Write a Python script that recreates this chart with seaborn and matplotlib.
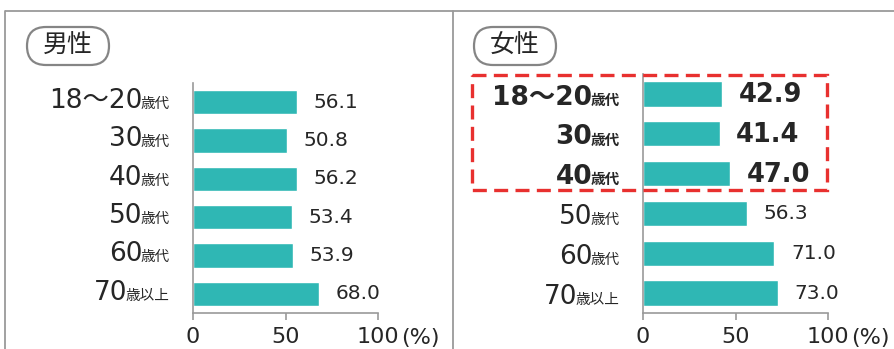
import matplotlib
matplotlib.use("Agg")
import matplotlib.pyplot as plt
import seaborn as sns
import pandas as pd
from matplotlib.patches import FancyBboxPatch, Rectangle

sns.set_theme(style="white")
plt.rcParams['font.family'] = ['Noto Sans CJK JP', 'DejaVu Sans']

# ---- data ----
age_nums = ["18～20", "30", "40", "50", "60", "70"]
age_suffix = ["歳代", "歳代", "歳代", "歳代", "歳代", "歳以上"]
male_values = [56.1, 50.8, 56.2, 53.4, 53.9, 68.0]
female_values = [42.9, 41.4, 47.0, 56.3, 71.0, 73.0]
x_ticks = [0, 50, 100]
panel_titles = ["男性", "女性"]
highlight_rows = [0, 1, 2]  # rows emphasised in the female panel

W, H = 894, 349
fig = plt.figure(figsize=(W / 100, H / 100), dpi=100)
BAR = "#2fb7b4"
TXT = "#262626"
GREY = "#9a9a9a"
NUMFONT = ['DejaVu Sans', 'Noto Sans CJK JP']
CJKFONT = ['Noto Sans CJK JP', 'DejaVu Sans']

# overlay axes in pixel coordinates for frame / decorations
ov = fig.add_axes([0, 0, 1, 1], zorder=5)
ov.set_xlim(0, W)
ov.set_ylim(H, 0)
ov.axis("off")
ov.patch.set_alpha(0)

ov.plot([5, W], [11, 11], color=GREY, lw=1.3, solid_capstyle="butt")
ov.plot([5, 5], [11, H], color=GREY, lw=1.3)
ov.plot([453, 453], [11, H], color=GREY, lw=1.3)

panels = [
    dict(vals=male_values, left=193, top=83, title=panel_titles[0], pill_x=27, bold=[], lab_dy=4),
    dict(vals=female_values, left=643, top=74, title=panel_titles[1], pill_x=474, bold=highlight_rows, lab_dy=-1),
]

renderer = fig.canvas.get_renderer()

for p in panels:
    bottom_px = 313
    ax = fig.add_axes([p["left"] / W, 1 - bottom_px / H, 185 / W, (bottom_px - p["top"]) / H])
    df = pd.DataFrame({"cat": [f"{n}{s}" for n, s in zip(age_nums, age_suffix)], "val": p["vals"]})
    sns.barplot(data=df, x="val", y="cat", ax=ax, color=BAR, saturation=1, width=0.64, orient="h")
    ax.set_xlim(0, 100)
    ax.set_ylim(5.5, -0.5)
    ax.set_xlabel("")
    ax.set_ylabel("")
    ax.set_yticks([])
    ax.set_xticks(x_ticks)
    ax.set_xticklabels([str(t) for t in x_ticks], fontsize=16, color=TXT, family=NUMFONT)
    ax.tick_params(axis="x", length=5, width=1.2, color=GREY, pad=5, direction="out", bottom=True)
    for s in ["top", "right"]:
        ax.spines[s].set_visible(False)
    for s in ["left", "bottom"]:
        ax.spines[s].set_color(GREY)
        ax.spines[s].set_linewidth(1.2)
    ax.patch.set_alpha(0)
    # unit label
    ax.annotate("(%)", (100, 0), xycoords=ax.get_xaxis_transform(), xytext=(17, -10.5),
                textcoords="offset points", ha="left", va="top", fontsize=16,
                color=TXT, family=NUMFONT)

    for i, v in enumerate(p["vals"]):
        bold = i in p["bold"]
        ax.annotate(f"{v:.1f}", (v, i), xytext=(12, -1 if bold else 0), textcoords="offset points",
                    ha="left", va="center", fontsize=18.5 if bold else 14.5,
                    fontweight="bold" if bold else "normal", color=TXT, family=NUMFONT)
        # category label: large number + small suffix, shared baseline
        base_dy = p["lab_dy"] * 0.72 - 7.0
        suf = ax.annotate(age_suffix[i], (0, i), xytext=(-17, base_dy), textcoords="offset points",
                          ha="right", va="baseline", fontsize=10.5,
                          fontweight="bold" if bold else "normal", color=TXT, family=CJKFONT)
        bb = suf.get_window_extent(renderer)
        wpt = bb.width * 72 / fig.dpi
        ax.annotate(age_nums[i], (0, i), xytext=(-17 - wpt + 1.5, base_dy), textcoords="offset points",
                    ha="right", va="baseline", fontsize=19,
                    fontweight="bold" if bold else "normal", color=TXT, family=NUMFONT)

    # title pill
    pill = FancyBboxPatch((p["pill_x"], 27), 82, 38,
                          boxstyle="round,pad=0,rounding_size=19",
                          facecolor="white", edgecolor="#858585", lw=1.6)
    ov.add_patch(pill)
    ov.text(p["pill_x"] + 41, 46, p["title"], ha="center", va="center",
            fontsize=18, color=TXT, fontweight="normal", family=CJKFONT)

# red dashed highlight box
box = Rectangle((472, 75), 827 - 472, 190 - 75, fill=False, edgecolor="#e8302f",
                lw=2.4, linestyle=(0, (4.2, 2.2)))
ov.add_patch(box)

fig.savefig("out.png", dpi=100)
